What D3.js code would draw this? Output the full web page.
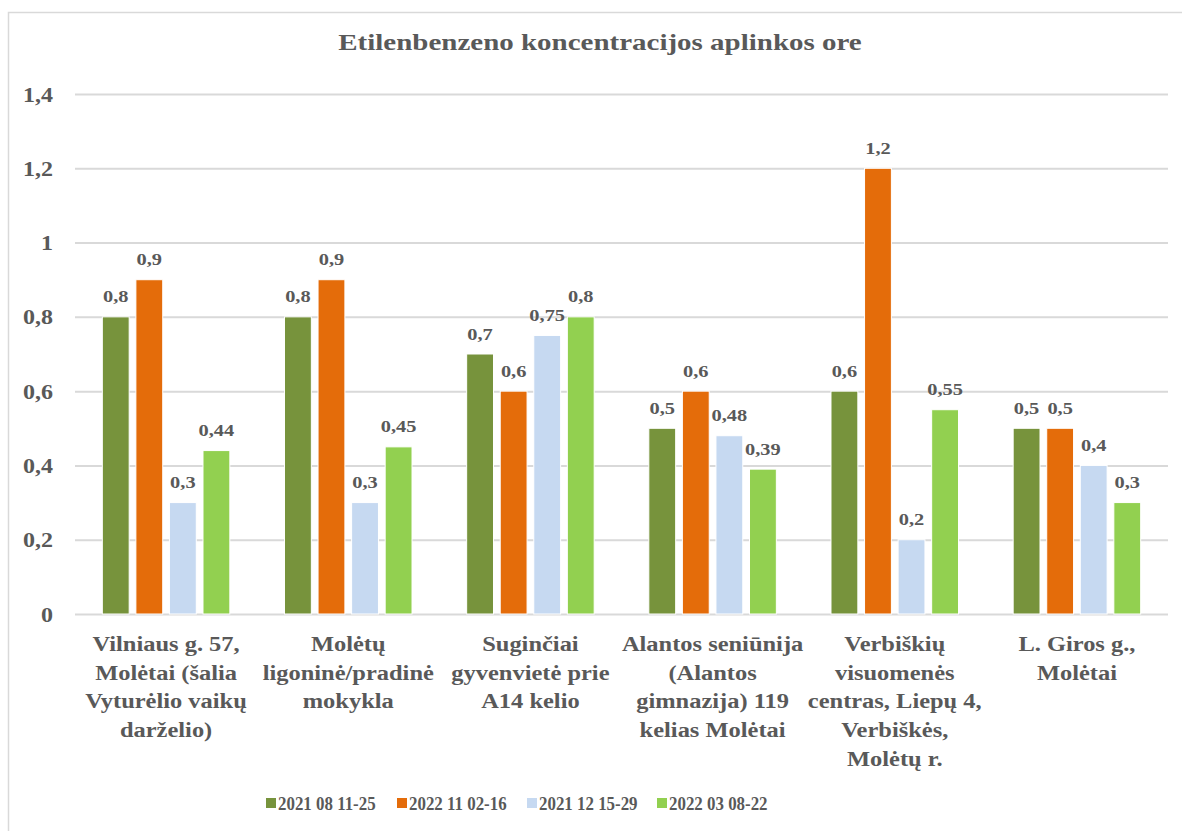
<!DOCTYPE html>
<html><head><meta charset="utf-8">
<script src="https://cdn.jsdelivr.net/npm/d3@7"></script>
</head><body style="margin:0;background:#fff"><svg id="c" width="1182" height="831" style="display:block"></svg>
<script>
const title = "Etilenbenzeno koncentracijos aplinkos ore";
const categories = [
  ["Vilniaus g. 57,", "Molėtai (šalia", "Vyturėlio vaikų", "darželio)"],
  ["Molėtų", "ligoninė/pradinė", "mokykla"],
  ["Suginčiai", "gyvenvietė prie", "A14 kelio"],
  ["Alantos seniūnija", "(Alantos", "gimnazija) 119", "kelias Molėtai"],
  ["Verbiškių", "visuomenės", "centras, Liepų 4,", "Verbiškės,", "Molėtų r."],
  ["L. Giros g.,", "Molėtai"]
];
const seriesNames = ["2021 08 11-25", "2022 11 02-16", "2021 12 15-29", "2022 03 08-22"];
const s1 = [0.8, 0.8, 0.7, 0.5, 0.6, 0.5];
const s2 = [0.9, 0.9, 0.6, 0.6, 1.2, 0.5];
const s3 = [0.3, 0.3, 0.75, 0.48, 0.2, 0.4];
const s4 = [0.44, 0.45, 0.8, 0.39, 0.55, 0.3];
const colors = ["#77933C", "#E46C0A", "#C6D9F1", "#92D050"];
const yTicks = [0, 0.2, 0.4, 0.6, 0.8, 1, 1.2, 1.4];
const series = [s1, s2, s3, s4];

const TXT = "#595959";
const svg = d3.select("#c").attr("font-family", "Liberation Serif").attr("font-weight", "bold");
const txt = (sel) => sel.attr("font-family", "Liberation Serif").attr("font-weight", "bold").attr("fill", TXT);
// place text at (x,y) with horizontal stretch sx
const place = (sel, x, y, sx) => sel.attr("x", 0).attr("y", 0).attr("transform", `translate(${x},${y}) scale(${sx},1)`);

svg.append("rect").attr("x", 8.5).attr("y", 12.5).attr("width", 1190).attr("height", 840)
  .attr("fill", "#fff").attr("stroke", "#d9d9d9").attr("stroke-width", 1.5);

const L = 75, R = 1168, T = 94, B = 614;
const y = d3.scaleLinear().domain([0, 1.4]).range([B, T]);
const x0 = d3.scaleBand().domain(d3.range(categories.length)).range([L, R]).paddingInner(0.3).paddingOuter(0.15);
const x1 = d3.scaleBand().domain(d3.range(series.length)).range([0, x0.bandwidth()]).paddingInner(0.2);

svg.append("text").attr("text-anchor", "middle").call(txt).attr("font-size", 23)
  .call(place, 600, 50, 1.26).text(title);

const fmt = v => String(v).replace(".", ",");
const yAxis = d3.axisLeft(y).tickValues(yTicks).tickSize(-(R - L)).tickFormat(fmt);
const ga = svg.append("g").attr("transform", `translate(${L},0)`).call(yAxis);
ga.attr("font-family", "Liberation Serif").attr("font-size", 20);
ga.select(".domain").remove();
ga.selectAll(".tick line").attr("stroke", "#d9d9d9").attr("stroke-width", 2);
ga.selectAll(".tick text").call(txt).attr("dy", "0.35em").call(place, -22, 0, 1.2);

const groups = svg.append("g").selectAll("g").data(categories).join("g")
  .attr("transform", (d, i) => `translate(${x0(i)},0)`);
groups.each(function(d, i) {
  const g = d3.select(this);
  series.forEach((s, j) => {
    g.append("rect").attr("x", x1(j)).attr("width", x1.bandwidth())
      .attr("y", y(s[i])).attr("height", y(0) - y(s[i]))
      .attr("fill", colors[j]).attr("stroke", "#fff").attr("stroke-width", 1);
    g.append("text").attr("text-anchor", "middle").call(txt).attr("font-size", 17)
      .call(place, x1(j) + x1.bandwidth() / 2, y(s[i]) - 14.5, 1.2).text(fmt(s[i]));
  });
  const t = g.append("text").attr("text-anchor", "middle").call(txt).attr("font-size", 21)
    .call(place, x0.bandwidth() / 2, 651, 1.165);
  d.forEach((line, k) => t.append("tspan").attr("x", 0).attr("y", k * 28.7).text(line));
});

const leg = svg.append("g");
const legX = [266, 397, 527, 657];
seriesNames.forEach((n, j) => {
  leg.append("rect").attr("x", legX[j]).attr("y", 798).attr("width", 10).attr("height", 10).attr("fill", colors[j]);
  leg.append("text").call(txt).attr("font-size", 19).call(place, legX[j] + 12, 810, 0.89).text(n);
});
</script></body></html>
